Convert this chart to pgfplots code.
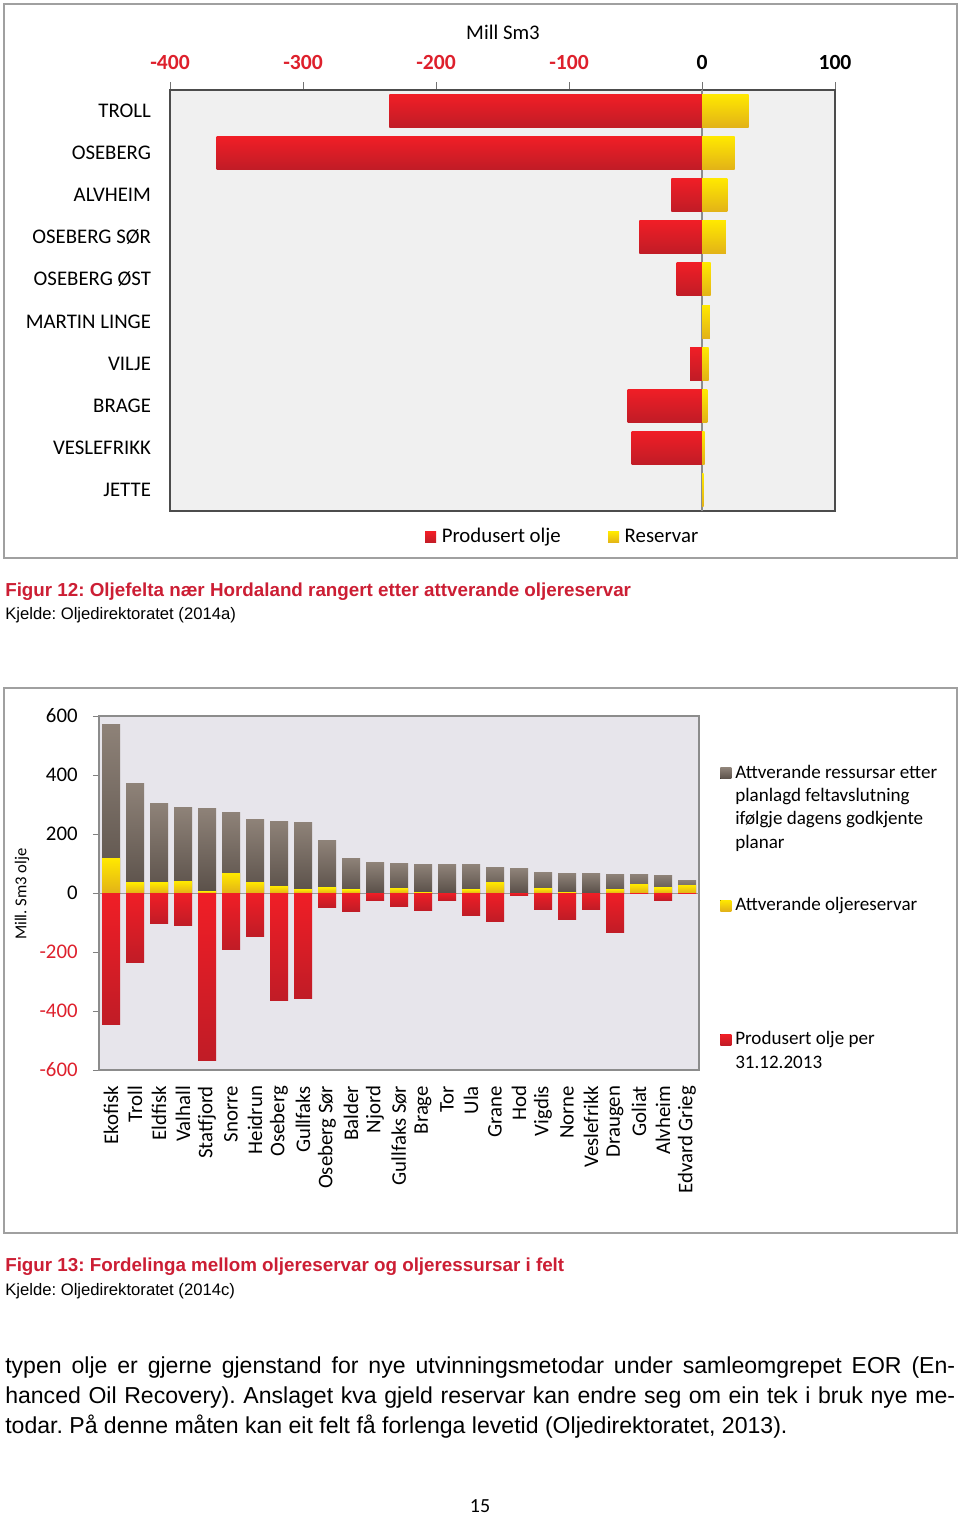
\documentclass[border=0pt]{standalone}
\usepackage{pgfplots}
\pgfplotsset{compat=1.18}
\usepackage{pgfplotstable}
\usepackage{fontspec}
\setmainfont{Carlito}
\newfontfamily\arial{Liberation Sans}
\frenchspacing
\definecolor{redA}{RGB}{240,30,38}
\definecolor{redB}{RGB}{192,28,38}
\definecolor{yelA}{RGB}{255,232,0}
\definecolor{yelB}{RGB}{226,178,24}
\definecolor{gryA}{RGB}{142,130,120}
\definecolor{gryB}{RGB}{90,80,73}
\definecolor{tred}{RGB}{222,32,44}
\definecolor{capred}{RGB}{204,30,52}
\definecolor{framec}{RGB}{160,160,160}
\definecolor{topbg}{RGB}{240,240,240}
\definecolor{botbg}{RGB}{231,229,235}
\newcommand{\cf}{\fontsize{15.6}{17.5}\selectfont}
\newcommand{\lf}{\fontsize{14.3}{17.5}\selectfont}

\pgfplotstableread{
idx prod res
0 -235 35
1 -365 24.5
2 -23 19
3 -47 18
4 -19 6.5
5 0 6
6 -9 5
7 -56 4
8 -53 2
9 0 1.3
}\toptab

\pgfplotstableread{
idx total res prod
0 572 117 -447
1 371 34 -236
2 302 34 -104
3 289 39 -109
4 287 6 -567
5 273 66 -192
6 248 37 -146
7 244 23 -366
8 239 12 -358
9 178 18 -48
10 118 11 -61
11 102 2 -27
12 100 16 -46
13 98 3 -59
14 95 1 -26
15 95 12 -75
16 88 37 -96
17 82 0 -10
18 68 16 -55
19 66 3 -89
20 66 2 -55
21 64 13 -135
22 63 30 -3
23 61 18 -26
24 43 27 -3
}\bottab

\pgfplotsset{
  sqlegend/.style={legend image code/.code={\fill[##1, draw=none] (0pt,-0.5pt) rectangle (8.25pt,7.75pt);}},
}

\begin{document}
\begin{tikzpicture}[x=0.75pt,y=-0.75pt]
\path[use as bounding box] (0,0) rectangle (960,1516);
\fill[white] (0,0) rectangle (960,1516);
\draw[framec, line width=1.2pt] (4,4) rectangle (957,558);
\draw[framec, line width=1.2pt] (4,688) rectangle (957,1233);
\node[font=\cf] at (503,32) {Mill Sm3};
\coordinate (TA) at (170,511);
\coordinate (BA) at (99,1070);

\begin{axis}[
  at={(TA)}, anchor=south west,
  scale only axis, width=498.75pt, height=315.75pt,
  xbar,
  xmin=-400, xmax=100, ymin=-0.5, ymax=9.5, y dir=reverse,
  axis background/.style={fill=topbg},
  axis line style={black!70, line width=0.9pt},
  xtick={-400,-300,-200,-100,0,100},
  xticklabels={\textcolor{tred}{-400},\textcolor{tred}{-300},\textcolor{tred}{-200},\textcolor{tred}{-100},0,100},
  xtick pos=right, xticklabel pos=right,
  tick align=outside, major tick length=6pt,
  x tick style={black!55, line width=0.6pt},
  xticklabel style={font=\fontsize{16.2}{18}\selectfont\bfseries},
  xticklabel shift=6pt,
  ytick={0,...,9},
  yticklabels={TROLL,OSEBERG,ALVHEIM,OSEBERG SØR,OSEBERG ØST,MARTIN LINGE,VILJE,BRAGE,VESLEFRIKK,JETTE},
  y tick style={draw=none},
  yticklabel style={font=\cf, xshift=-4.75pt},
  extra x ticks={0}, extra x tick labels={},
  extra x tick style={grid=major, major grid style={black!45, line width=1pt}},
  legend columns=2,
  legend style={at={(0.591,-0.033)}, anchor=north, draw=none, fill=none, inner sep=0pt,
    cells={anchor=base west}, nodes={inner sep=2pt, text depth=},
    /tikz/every odd column/.append style={column sep=2.25pt},
    /tikz/every even column/.append style={column sep=33.5pt}, font=\cf},
]
\pgfplotsinvokeforeach{0,...,9}{
\addplot[xbar, bar shift=0pt, bar width=24.75pt, draw=none, top color=redA, bottom color=redB, forget plot,
  x filter/.expression={\coordindex==#1 ? x : nan}]
  table[x=prod, y=idx]{\toptab};
\addplot[xbar, bar shift=0pt, bar width=24.75pt, draw=none, top color=yelA, bottom color=yelB, forget plot,
  x filter/.expression={\coordindex==#1 ? x : nan}]
  table[x=res, y=idx]{\toptab};
}
\addlegendimage{sqlegend, top color=redA, bottom color=redB}
\addlegendentry{Produsert olje}
\addlegendimage{sqlegend, top color=yelA, bottom color=yelB}
\addlegendentry{Reservar}
\end{axis}

\node[anchor=base west, inner sep=0pt, text=capred, font=\arial\bfseries\fontsize{14.1}{16}\selectfont] at (5,596) {Figur 12: Oljefelta nær Hordaland rangert etter attverande oljereservar};
\node[anchor=base west, inner sep=0pt, font=\arial\fontsize{12.5}{14}\selectfont] at (5,619) {Kjelde: Oljedirektoratet (2014a)};

\node[rotate=90, font=\fontsize{12.5}{14}\selectfont] at (22,894) {Mill. Sm3 olje};

\begin{axis}[
  at={(BA)}, anchor=south west,
  scale only axis, width=450pt, height=265.5pt,
  ybar,
  xmin=-0.5, xmax=24.5, ymin=-600, ymax=600,
  axis background/.style={fill=botbg},
  axis line style={black!45, line width=0.8pt},
  xtick={0,...,24},
  xticklabels={Ekofisk,Troll,Eldfisk,Valhall,Statfjord,Snorre,Heidrun,Oseberg,Gullfaks,Oseberg Sør,Balder,Njord,Gullfaks Sør,Brage,Tor,Ula,Grane,Hod,Vigdis,Norne,Veslefrikk,Draugen,Goliat,Alvheim,Edvard Grieg},
  xticklabel style={rotate=90, anchor=east, font=\cf},
  xticklabel shift=4pt,
  x tick style={draw=none},
  ytick={-600,-400,-200,0,200,400,600},
  yticklabels={\textcolor{tred}{-600},\textcolor{tred}{-400},\textcolor{tred}{-200},0,200,400,600},
  ytick pos=left, tick align=outside, major tick length=4.5pt,
  y tick style={black!50, line width=0.6pt},
  yticklabel style={font=\cf, xshift=-8pt},
  extra y ticks={0}, extra y tick labels={},
  extra y tick style={grid=major, major grid style={black!40, line width=0.6pt}},
  legend style={at={(1.035,0.879)}, anchor=north west, draw=none, fill=none, inner sep=0pt,
    row sep=25.25pt, cells={anchor=base west}, nodes={inner sep=2pt, text depth=},
    /tikz/every odd column/.append style={column sep=1pt}, font=\lf},
]
\pgfplotsinvokeforeach{0,...,24}{
\addplot[ybar, bar shift=0pt, bar width=13.5pt, draw=none, top color=gryA, bottom color=gryB, forget plot,
  y filter/.expression={\coordindex==#1 ? y : nan}]
  table[x=idx, y=total]{\bottab};
\addplot[ybar, bar shift=0pt, bar width=13.5pt, draw=none, top color=yelA, bottom color=yelB, forget plot,
  y filter/.expression={\coordindex==#1 ? y : nan}]
  table[x=idx, y=res]{\bottab};
\addplot[ybar, bar shift=0pt, bar width=13.5pt, draw=none, top color=redA, bottom color=redB, forget plot,
  y filter/.expression={\coordindex==#1 ? y : nan}]
  table[x=idx, y=prod]{\bottab};
}
\addlegendimage{sqlegend, top color=gryA, bottom color=gryB}
\addlegendentry{\parbox[t]{160pt}{\strut Attverande ressursar etter\\\strut planlagd feltavslutning\\\strut ifølgje dagens godkjente\\\strut planar}}
\addlegendimage{sqlegend, top color=yelA, bottom color=yelB}
\addlegendentry{\parbox[t]{160pt}{\strut Attverande oljereservar\par\vspace*{54pt}}}
\addlegendimage{sqlegend, top color=redA, bottom color=redB}
\addlegendentry{\parbox[t]{160pt}{\strut Produsert olje per\\\strut 31.12.2013}}
\end{axis}

\node[anchor=base west, inner sep=0pt, text=capred, font=\arial\bfseries\fontsize{14.1}{16}\selectfont] at (5,1271) {Figur 13: Fordelinga mellom oljereservar og oljeressursar i felt};
\node[anchor=base west, inner sep=0pt, font=\arial\fontsize{12.5}{14}\selectfont] at (5,1295) {Kjelde: Oljedirektoratet (2014c)};

\node[anchor=base west, inner sep=0pt, font=\arial\fontsize{17.3}{20}\selectfont] at (5,1373) {\makebox[712.5pt][s]{typen olje er gjerne gjenstand for nye utvinningsmetodar under samleomgrepet EOR (En-}};
\node[anchor=base west, inner sep=0pt, font=\arial\fontsize{17.3}{20}\selectfont] at (5,1403) {\makebox[712.5pt][s]{hanced Oil Recovery). Anslaget kva gjeld reservar kan endre seg om ein tek i bruk nye me-}};
\node[anchor=base west, inner sep=0pt, font=\arial\fontsize{17.3}{20}\selectfont] at (5,1433) {todar. På denne måten kan eit felt få forlenga levetid (Oljedirektoratet, 2013).};
\node[font=\fontsize{15}{18}\selectfont] at (480,1506) {15};
\end{tikzpicture}
\end{document}
